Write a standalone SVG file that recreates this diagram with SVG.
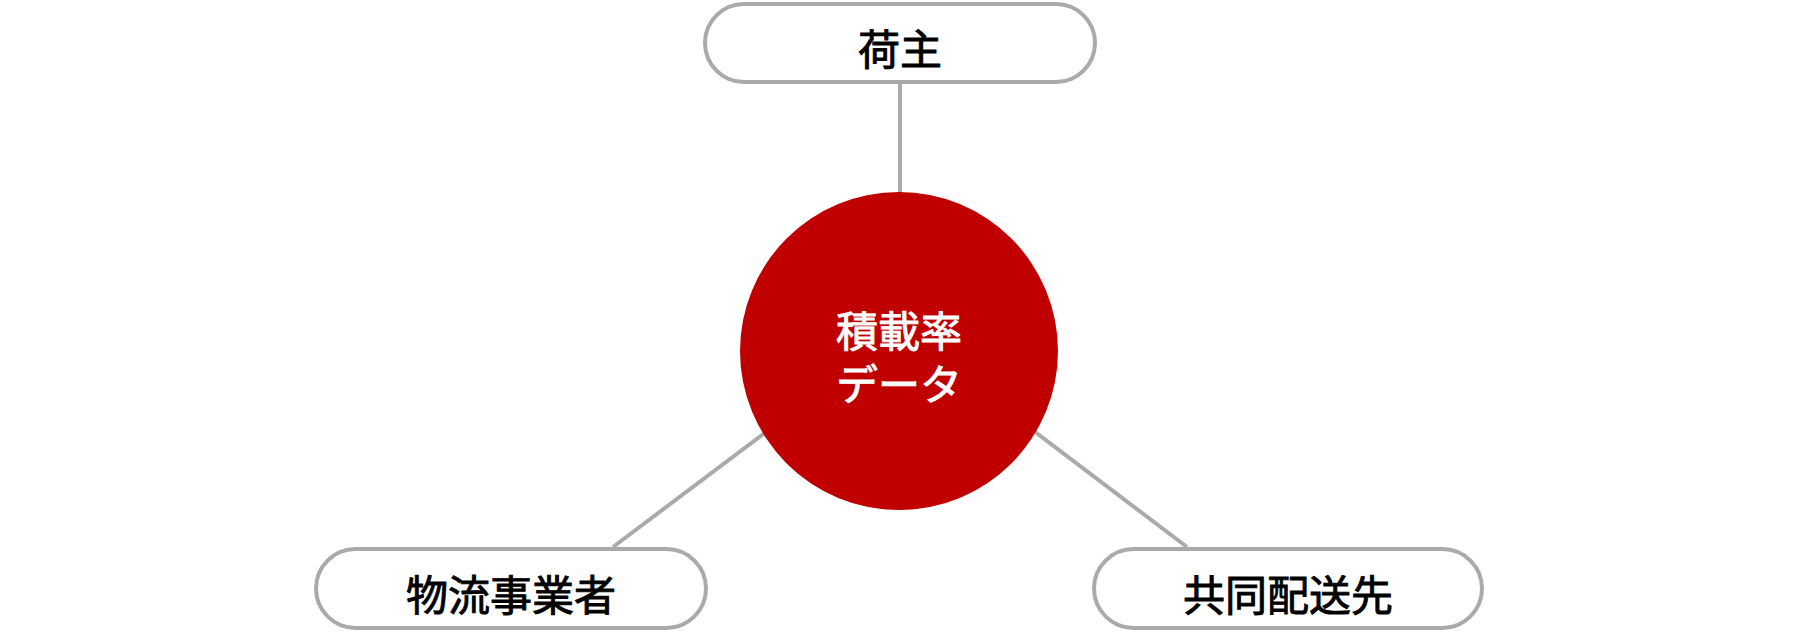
<svg xmlns="http://www.w3.org/2000/svg" width="1800" height="640" viewBox="0 0 1800 640">
<style>
.box{fill:#ffffff;stroke:#aaaaaa;stroke-width:4}
.conn{stroke:#aaaaaa;stroke-width:4;fill:none}
.lbl{font-family:"Noto Sans CJK JP","Noto Sans CJK SC",sans-serif;font-size:42px;font-weight:400;text-anchor:middle;dominant-baseline:central;fill:#000000;stroke:#000000;stroke-width:0.9}
.ctr{font-family:"Noto Sans CJK JP","Noto Sans CJK SC",sans-serif;font-size:42px;font-weight:400;text-anchor:middle;dominant-baseline:central;fill:#ffffff;stroke:#ffffff;stroke-width:0.9}
</style>
<rect width="1800" height="640" fill="#ffffff"/>
<g id="connectors">
<line class="conn" x1="900" y1="82" x2="900" y2="200"/>
<line class="conn" x1="790" y1="414" x2="613" y2="547"/>
<line class="conn" x1="1010" y1="413" x2="1187" y2="547"/>
</g>
<g id="center">
<circle cx="899" cy="351" r="159" fill="#c00000"/>
<text class="ctr" x="899" y="328">積載率<tspan x="899" dy="53">データ</tspan></text>
</g>
<g id="shipper">
<rect class="box" x="705" y="4" width="390" height="78" rx="39"/>
<text class="lbl" x="900" y="46">荷主</text>
</g>
<g id="logistics">
<rect class="box" x="316" y="549" width="390" height="79" rx="39.5"/>
<text class="lbl" x="511" y="592">物流事業者</text>
</g>
<g id="delivery">
<rect class="box" x="1094" y="549" width="388" height="79" rx="39.5"/>
<text class="lbl" x="1288" y="592">共同配送先</text>
</g>
</svg>
